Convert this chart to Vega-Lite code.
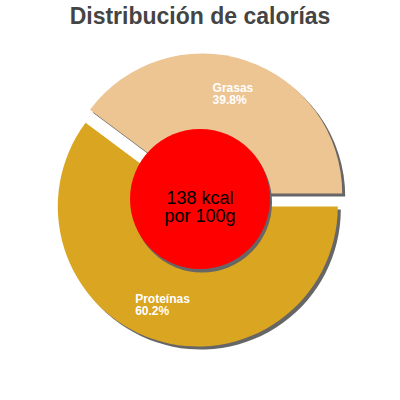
{
  "$schema": "https://vega.github.io/schema/vega-lite/v6.json",
  "width": 400,
  "height": 400,
  "padding": 0,
  "autosize": {"type": "none"},
  "background": "white",
  "config": {"view": {"stroke": null}, "font": "Liberation Sans"},
  "title": {
    "text": "Distribución de calorías",
    "font": "Liberation Sans",
    "fontSize": 23,
    "fontWeight": "bold",
    "color": "#444444",
    "anchor": "middle",
    "baseline": "alphabetic",
    "offset": -25,
    "dy": 22
  },
  "datasets": {
    "calorias": [
      {"nutriente": "Proteínas", "fraccion": 0.602, "orden": 1},
      {"nutriente": "Grasas", "fraccion": 0.398, "orden": 2}
    ],
    "centro": [{"texto": "138 kcal\npor 100g"}]
  },
  "layer": [
    {
      "data": {"name": "calorias"},
      "encoding": {
        "theta": {
          "field": "fraccion",
          "type": "quantitative",
          "stack": true,
          "scale": {"range": [1.5708, 7.854]}
        },
        "order": {"field": "orden", "type": "quantitative"}
      },
      "layer": [
        {
          "mark": {"type": "arc", "radius": 140, "color": "#666666", "xOffset": 5.2, "yOffset": -3.5},
          "encoding": {
            "opacity": {"condition": {"test": "datum.nutriente === 'Grasas'", "value": 1}, "value": 0}
          }
        },
        {
          "mark": {"type": "arc", "radius": 140, "color": "#666666", "xOffset": 0.8, "yOffset": 9.5},
          "encoding": {
            "opacity": {"condition": {"test": "datum.nutriente === 'Proteínas'", "value": 1}, "value": 0}
          }
        },
        {
          "mark": {"type": "arc", "radius": 140, "color": "#EDC593", "xOffset": 2.2, "yOffset": -6.5},
          "encoding": {
            "opacity": {"condition": {"test": "datum.nutriente === 'Grasas'", "value": 1}, "value": 0}
          }
        },
        {
          "mark": {"type": "arc", "radius": 140, "color": "#DAA520", "xOffset": -2.2, "yOffset": 6.5},
          "encoding": {
            "opacity": {"condition": {"test": "datum.nutriente === 'Proteínas'", "value": 1}, "value": 0}
          }
        }
      ]
    },
    {
      "data": {"name": "centro"},
      "mark": {"type": "arc", "radius": 70, "theta": 0, "theta2": 6.2832, "color": "#666666", "xOffset": 2, "yOffset": 2.5},
      "encoding": {}
    },
    {
      "data": {"name": "centro"},
      "mark": {"type": "arc", "radius": 70, "theta": 0, "theta2": 6.2832, "color": "#FF0000", "yOffset": -1},
      "encoding": {}
    },
    {
      "data": {"name": "centro"},
      "mark": {"type": "text", "fontSize": 18, "lineHeight": 18, "lineBreak": "\n", "align": "center", "baseline": "middle", "color": "#000000", "dy": -1},
      "encoding": {"text": {"field": "texto", "type": "nominal"}}
    },
    {
      "data": {"name": "calorias"},
      "encoding": {
        "theta": {
          "field": "fraccion",
          "type": "quantitative",
          "stack": true,
          "scale": {"range": [1.5708, 7.854]}
        },
        "order": {"field": "orden", "type": "quantitative"}
      },
      "layer": [
        {
          "mark": {"type": "text", "radius": 104, "fontSize": 12, "fontWeight": "bold", "color": "white", "align": "left", "baseline": "alphabetic", "xOffset": 2.2, "yOffset": -6.5, "dx": -22.4, "dy": -2.5},
          "encoding": {
            "text": {"condition": {"test": "datum.nutriente === 'Grasas'", "field": "nutriente", "type": "nominal"}, "value": ""}
          }
        },
        {
          "mark": {"type": "text", "radius": 104, "fontSize": 12, "fontWeight": "bold", "color": "white", "align": "left", "baseline": "alphabetic", "xOffset": 2.2, "yOffset": -6.5, "dx": -22.4, "dy": 9.5},
          "encoding": {
            "text": {"condition": {"test": "datum.nutriente === 'Grasas'", "field": "fraccion", "type": "quantitative", "format": ".1%"}, "value": ""}
          }
        },
        {
          "mark": {"type": "text", "radius": 104, "fontSize": 12, "fontWeight": "bold", "color": "white", "align": "left", "baseline": "alphabetic", "xOffset": -2.2, "yOffset": 6.5, "dx": -29.9, "dy": -2.5},
          "encoding": {
            "text": {"condition": {"test": "datum.nutriente === 'Proteínas'", "field": "nutriente", "type": "nominal"}, "value": ""}
          }
        },
        {
          "mark": {"type": "text", "radius": 104, "fontSize": 12, "fontWeight": "bold", "color": "white", "align": "left", "baseline": "alphabetic", "xOffset": -2.2, "yOffset": 6.5, "dx": -29.9, "dy": 9.5},
          "encoding": {
            "text": {"condition": {"test": "datum.nutriente === 'Proteínas'", "field": "fraccion", "type": "quantitative", "format": ".1%"}, "value": ""}
          }
        }
      ]
    }
  ]
}
